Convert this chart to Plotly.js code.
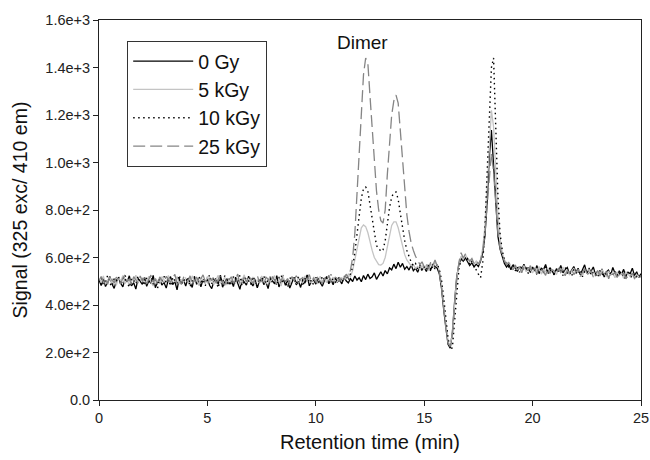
<!DOCTYPE html>
<html>
<head>
<meta charset="utf-8">
<script src="https://cdn.plot.ly/plotly-3.0.1.min.js"></script>
<style>html,body{margin:0;padding:0;background:#fff;}#chart{width:650px;height:460px;}</style>
</head>
<body>
<div id="chart"></div>
<script>
// Sampling: retention time starts at 0 min, one point every 0.1 min (0 .. 25 min)
const timeStart = 0;
const timeStep = 0.1;

const seriesNames = ["0 Gy", "5 kGy", "10 kGy", "25 kGy"];

const signal0Gy = [
  505,482,511,478,496,520,488,470,503,515,
  492,476,509,498,523,481,494,467,512,500,
  487,516,479,502,491,525,473,498,510,484,
  495,471,507,519,486,499,464,513,490,505,
  480,511,496,474,521,489,502,477,508,493,
  515,483,469,500,512,487,526,475,497,509,
  488,503,478,517,492,466,510,499,484,521,
  494,480,508,472,501,518,486,497,469,512,
  503,489,524,476,498,510,483,506,471,495,
  517,485,500,474,509,492,527,481,498,506,
  488,512,495,479,503,520,490,508,485,514,
  497,506,489,518,502,493,511,499,522,505,
  515,498,524,507,530,512,519,535,508,527,
  540,522,545,531,556,548,572,553,580,559,
  575,551,562,547,568,544,555,538,561,549,
  558,541,565,548,570,562,555,530,470,380,
  295,235,218,285,410,520,570,595,585,600,
  582,566,578,560,572,562,585,620,690,830,
  1020,1137,990,810,690,635,600,575,560,572,
  548,570,555,541,563,550,572,545,558,537,
  560,543,566,532,555,548,571,539,557,544,
  528,553,540,567,535,549,558,531,546,562,
  538,555,527,548,569,533,551,542,560,529,
  540,530,552,518,539,547,526,558,534,522,
  544,529,550,520,538,532,555,524,540,516,
  532
];

const signal5kGy = [
  510,495,522,488,505,516,492,509,483,518,
  500,524,490,507,481,513,498,526,494,503,
  515,487,508,521,496,480,512,502,490,519,
  507,493,525,485,511,499,520,489,506,496,
  514,501,487,523,498,509,482,516,504,491,
  520,495,511,486,507,525,493,500,517,484,
  508,497,521,490,513,485,505,527,494,510,
  499,518,483,506,492,522,501,488,514,496,
  509,524,491,503,480,516,498,511,487,520,
  502,493,515,506,485,523,497,510,492,518,
  504,489,521,499,512,494,526,503,517,496,
  498,515,503,522,508,530,520,545,590,640,
  690,725,737,730,705,665,630,600,585,570,
  568,575,600,650,700,735,750,750,725,685,
  645,612,590,575,565,570,555,562,548,566,
  552,568,545,575,558,580,570,545,490,400,
  310,245,230,280,400,510,575,605,590,612,
  595,580,590,572,585,570,590,640,730,880,
  1080,1220,1150,950,780,680,620,590,575,580,
  565,552,570,548,560,545,566,540,555,548,
  535,558,544,562,530,550,541,556,537,549,
  545,528,552,539,560,533,547,526,543,555,
  531,548,538,522,546,535,553,529,541,520,
  538,527,549,532,518,543,530,536,515,540,
  524,533,512,539,527,520,535,509,528,518,
  522
];

const signal10kGy = [
  498,515,486,507,523,492,478,511,500,519,
  485,506,528,495,474,512,503,489,520,497,
  510,482,516,501,525,488,506,470,514,499,
  521,493,508,480,517,504,491,526,485,509,
  496,518,476,503,512,487,522,498,508,481,
  505,527,490,514,499,472,516,495,523,488,
  511,484,519,502,493,525,480,507,515,497,
  486,520,503,476,512,498,524,489,506,518,
  494,508,482,515,527,491,503,473,517,500,
  512,488,521,496,479,510,526,493,505,484,
  517,499,486,522,505,514,490,528,501,495,
  505,520,495,512,528,503,535,560,620,700,
  780,850,890,897,880,820,750,690,650,640,
  625,632,670,740,810,855,872,876,845,785,
  725,672,630,600,580,565,575,552,568,545,
  560,548,570,543,566,552,575,548,505,430,
  340,260,215,220,330,460,550,590,600,585,
  595,570,585,560,548,530,515,580,720,950,
  1220,1400,1440,1150,860,700,630,590,570,560,
  552,571,544,560,538,565,547,556,533,561,
  542,550,529,557,545,536,563,531,549,540,
  527,554,538,546,524,559,535,543,521,550,
  537,528,548,519,541,533,556,525,539,530,
  516,545,532,522,540,511,537,526,543,518,
  534,521,529,505,536,523,514,532,519,527,
  513
];

const signal25kGy = [
  503,520,496,512,487,524,508,493,517,501,
  489,514,527,498,510,485,519,506,492,522,
  500,515,488,509,526,495,511,483,518,504,
  492,521,507,496,513,529,490,505,486,516,
  509,497,523,488,502,518,494,511,527,499,
  486,512,503,520,491,508,524,496,483,514,
  505,519,494,510,530,487,502,516,498,521,
  512,490,508,525,495,503,484,517,509,492,
  520,506,489,515,501,526,497,511,488,518,
  504,523,493,509,516,491,505,528,499,513,
  496,520,507,489,514,502,525,493,511,517,
  512,498,521,506,530,515,548,600,700,860,
  1040,1220,1370,1440,1420,1280,1130,980,880,800,
  755,745,800,950,1100,1200,1260,1284,1250,1140,
  1010,885,780,710,660,630,605,590,570,582,
  560,575,552,580,566,590,560,535,475,385,
  300,240,225,275,395,505,580,620,598,615,
  600,585,596,575,588,572,590,630,700,820,
  960,1040,960,820,700,640,605,585,570,578,
  560,548,568,542,557,536,562,550,545,566,
  538,553,531,559,547,540,525,555,533,548,
  542,529,556,537,550,523,544,535,552,528,
  540,547,520,538,553,526,535,543,518,532,
  545,522,537,528,541,514,533,525,539,517,
  530,522,536,510,527,519,534,513,525,516,
  520
];

const xTickVals = [0, 5, 10, 15, 20, 25];
const xTickText = ["0", "5", "10", "15", "20", "25"];
const yTickVals = [0, 200, 400, 600, 800, 1000, 1200, 1400, 1600];
const yTickText = ["0.0", "2.0e+2", "4.0e+2", "6.0e+2", "8.0e+2", "1.0e+3", "1.2e+3", "1.4e+3", "1.6e+3"];

const annotationText = "Dimer";
const annotationX = 12.15;
const annotationY = 1507;

const styles = [
  {color: "#000000", width: 1.3, dash: "solid"},
  {color: "#c4c4c4", width: 1.3, dash: "solid"},
  {color: "#000000", width: 1.4, dash: "1.5px,3.5px"},
  {color: "#858585", width: 1.3, dash: "12px,5px"}
];

const allSignals = [signal0Gy, signal5kGy, signal10kGy, signal25kGy];

const traces = allSignals.map((ys, i) => ({
  type: "scatter",
  mode: "lines",
  name: seriesNames[i],
  x0: timeStart,
  dx: timeStep,
  y: ys,
  line: styles[i]
}));

const fontFam = "'Liberation Sans', Arial, sans-serif";

const layout = {
  width: 650,
  height: 460,
  margin: {l: 99, r: 9, t: 20, b: 60},
  paper_bgcolor: "#ffffff",
  plot_bgcolor: "#ffffff",
  font: {family: fontFam, color: "#111"},
  showlegend: true,
  legend: {
    x: 0.052, y: 0.945, xanchor: "left", yanchor: "top",
    bgcolor: "#ffffff", bordercolor: "#333", borderwidth: 1,
    font: {size: 19.5, family: fontFam, color: "#111"},
    itemwidth: 60,
    tracegroupgap: 0
  },
  xaxis: {
    range: [0, 25],
    tickvals: xTickVals,
    ticktext: xTickText,
    ticks: "outside",
    ticklen: 5,
    tickcolor: "#222",
    showline: true,
    linecolor: "#222",
    linewidth: 1,
    mirror: true,
    showgrid: false,
    zeroline: false,
    tickfont: {size: 14.5, color: "#222"},
    title: {text: "Retention time (min)", font: {size: 20, color: "#111"}, standoff: 9}
  },
  yaxis: {
    range: [0, 1600],
    tickvals: yTickVals,
    ticktext: yTickText,
    ticks: "outside",
    ticklen: 5,
    tickcolor: "#222",
    showline: true,
    linecolor: "#222",
    linewidth: 1,
    mirror: true,
    showgrid: false,
    zeroline: false,
    tickfont: {size: 14.5, color: "#222"},
    title: {text: "Signal (325 exc/ 410 em)", font: {size: 19.5, color: "#111"}, standoff: 12}
  },
  annotations: [{
    x: annotationX, y: annotationY, xref: "x", yref: "y",
    text: annotationText, showarrow: false,
    font: {size: 19, color: "#111", family: fontFam}
  }]
};

Plotly.newPlot("chart", traces, layout, {displayModeBar: false, staticPlot: true});
</script>
</body>
</html>
